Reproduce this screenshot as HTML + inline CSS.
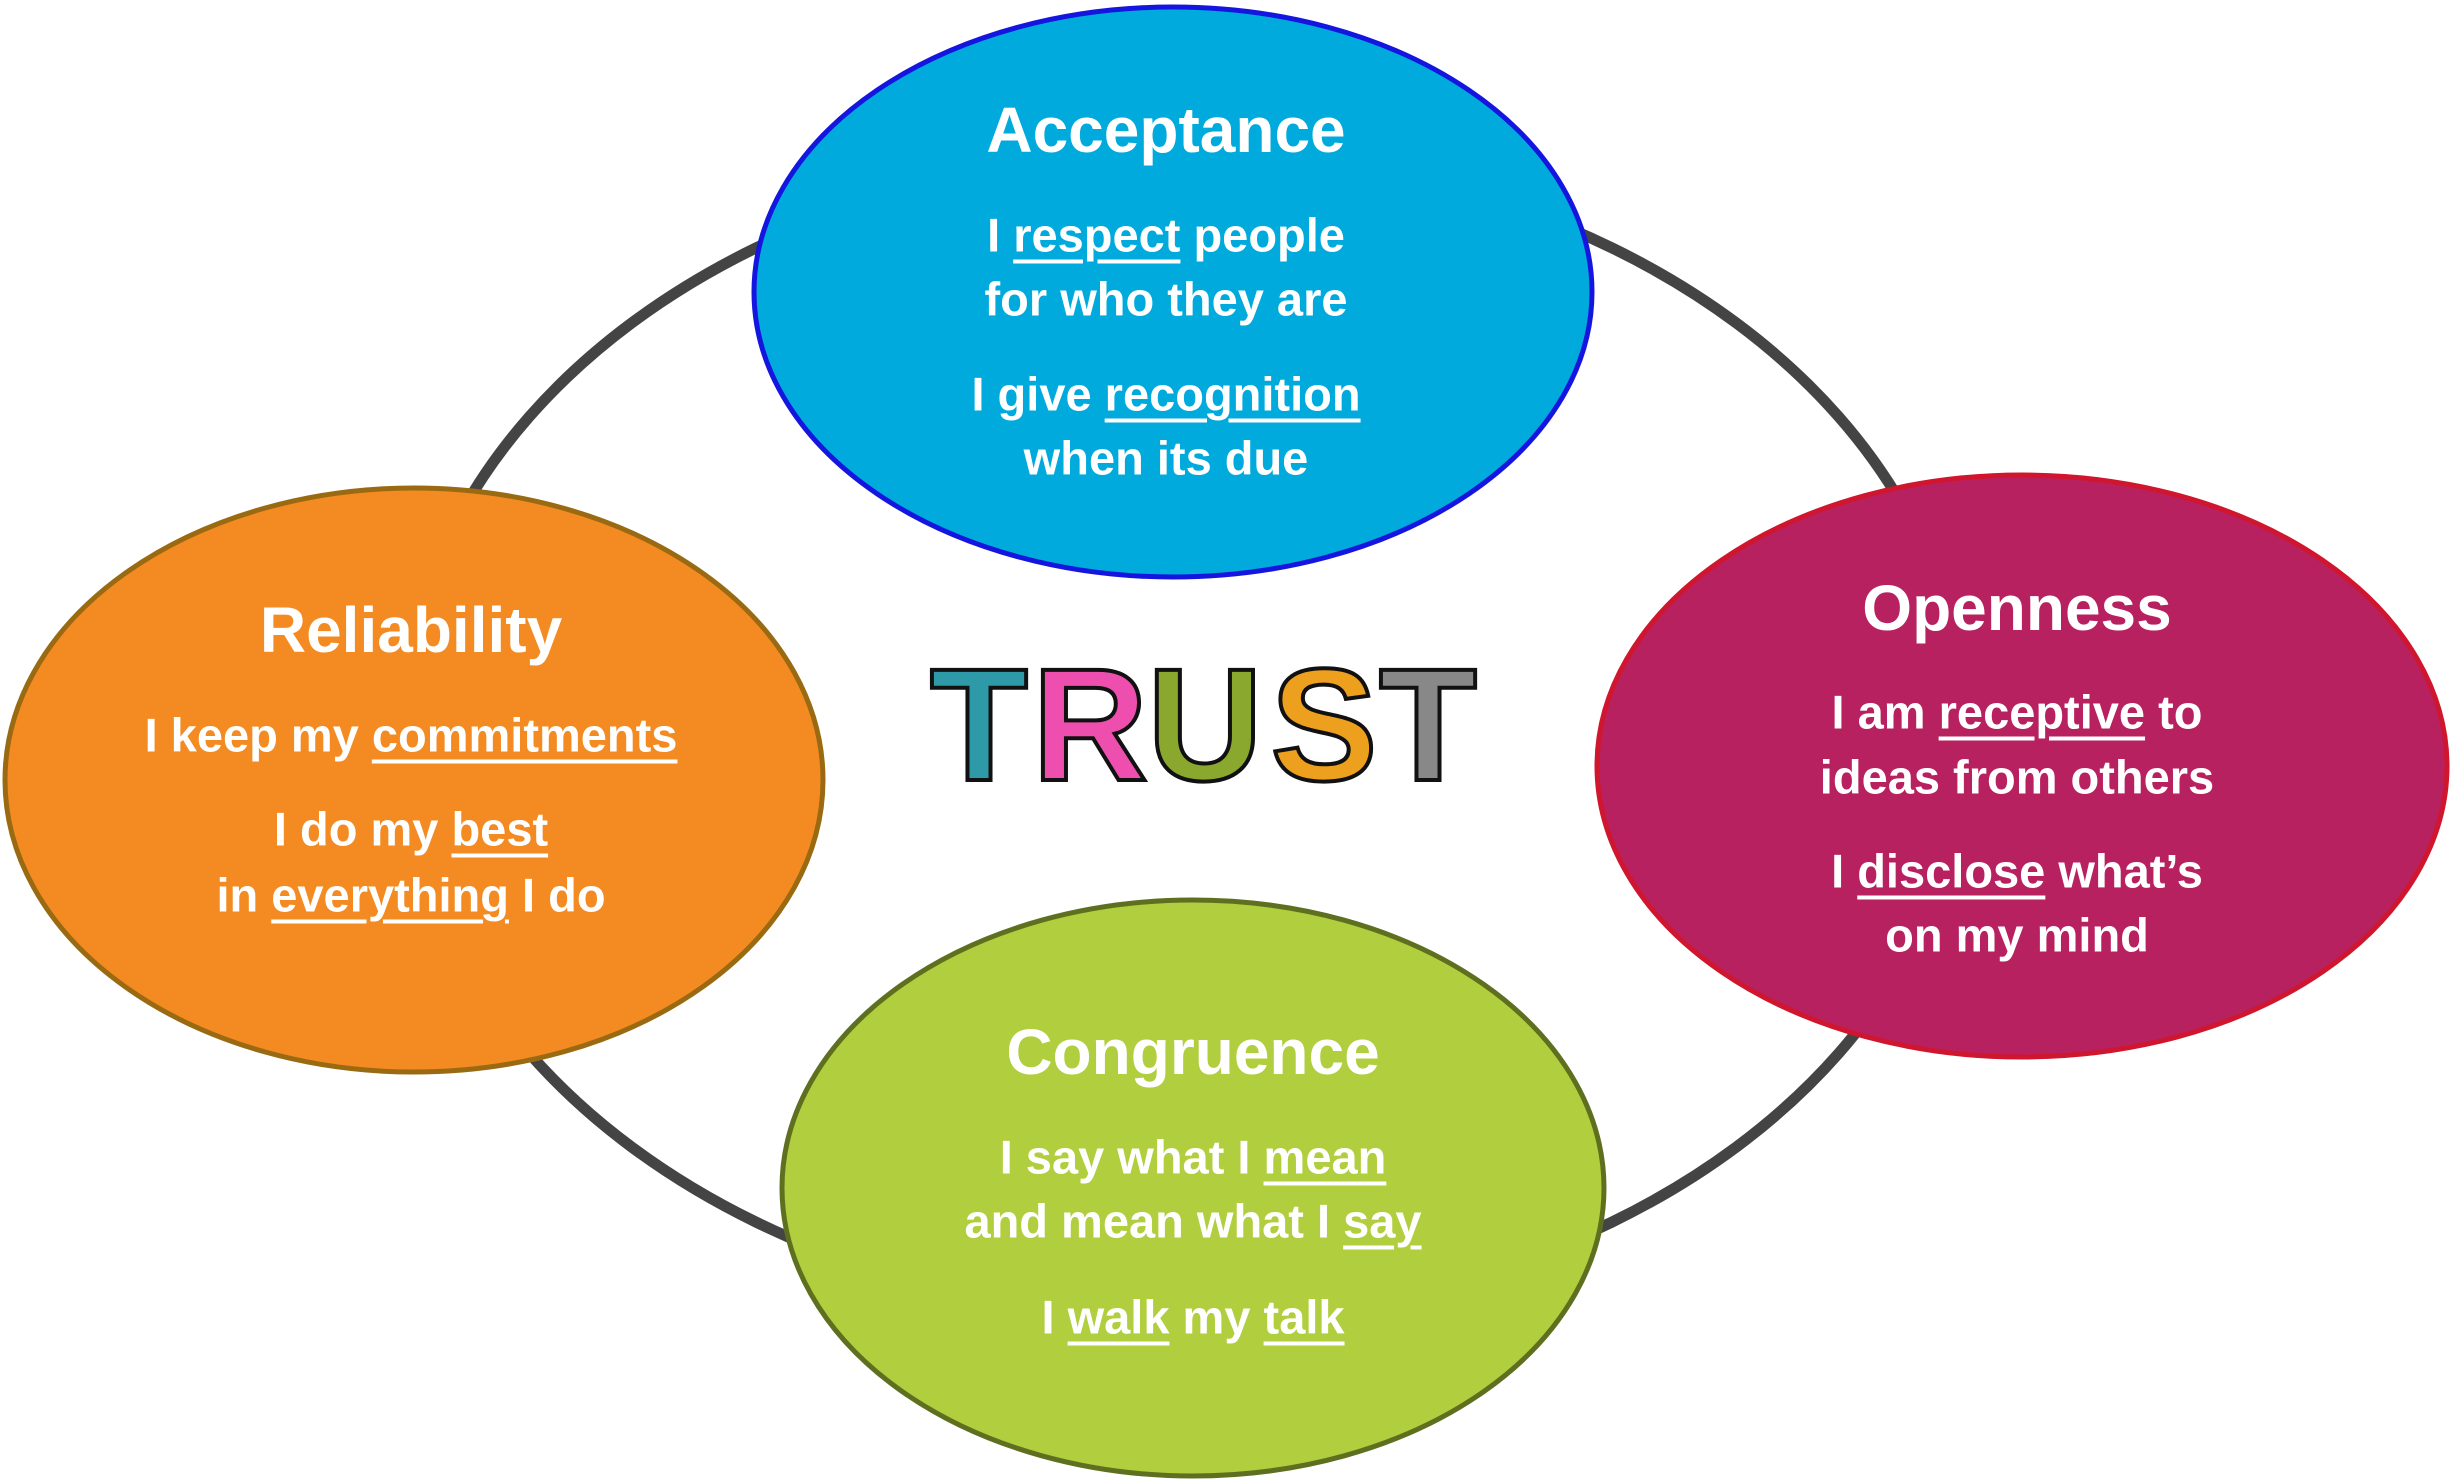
<!DOCTYPE html>
<html><head><meta charset="utf-8"><style>
html,body{margin:0;padding:0;background:#fff;}
#c{position:relative;width:2452px;height:1480px;overflow:hidden;font-family:"Liberation Sans",sans-serif;font-weight:bold;color:#fff;}
svg{position:absolute;left:0;top:0;}
.t{position:absolute;transform:translate(-50%,-50%);white-space:nowrap;text-align:center;}
.h{font-size:64px;}
.l{font-size:47px;}
u{text-decoration-thickness:4px;text-underline-offset:8px;}
</style></head><body><div id="c">
<svg width="2452" height="1480">
<ellipse cx="1184" cy="735" rx="782" ry="582" fill="none" stroke="#444" stroke-width="11"/>
<ellipse cx="1173" cy="292" rx="419" ry="285" fill="#00AADC" stroke="#1515E0" stroke-width="5"/>
<ellipse cx="414" cy="780" rx="409" ry="292" fill="#F38B22" stroke="#9A6A12" stroke-width="5"/>
<ellipse cx="2022" cy="766" rx="425" ry="291" fill="#B82160" stroke="#D0152E" stroke-width="5"/>
<ellipse cx="1193" cy="1188" rx="411" ry="288" fill="#B0CE3E" stroke="#5E7020" stroke-width="5"/>
<g font-family="Liberation Sans, sans-serif" font-weight="bold" font-size="160" stroke="#111" stroke-width="4" text-anchor="middle">
<text x="979" y="780" fill="#2E9AA8">T</text>
<text x="1090" y="780" fill="#EE4FAF">R</text>
<text x="1205" y="780" fill="#8BA82E">U</text>
<text x="1324" y="780" fill="#EDA01E">S</text>
<text x="1428" y="780" fill="#888">T</text>
</g>
</svg>
<div class="t h" style="left:1166px;top:130px">Acceptance</div>
<div class="t l" style="left:1166px;top:235px">I <u>respect</u> people</div>
<div class="t l" style="left:1166px;top:299px">for who they are</div>
<div class="t l" style="left:1166px;top:394px">I give <u>recognition</u></div>
<div class="t l" style="left:1166px;top:458px">when its due</div>

<div class="t h" style="left:411px;top:630px">Reliability</div>
<div class="t l" style="left:411px;top:735px">I keep my <u>commitments</u></div>
<div class="t l" style="left:411px;top:829px">I do my <u>best</u></div>
<div class="t l" style="left:411px;top:895px">in <u>everything</u> I do</div>

<div class="t h" style="left:2017px;top:608px">Openness</div>
<div class="t l" style="left:2017px;top:712px">I am <u>receptive</u> to</div>
<div class="t l" style="left:2017px;top:777px">ideas from others</div>
<div class="t l" style="left:2017px;top:871px">I <u>disclose</u> what’s</div>
<div class="t l" style="left:2017px;top:935px">on my mind</div>

<div class="t h" style="left:1193px;top:1052px">Congruence</div>
<div class="t l" style="left:1193px;top:1157px">I say what I <u>mean</u></div>
<div class="t l" style="left:1193px;top:1221px">and mean what I <u>say</u></div>
<div class="t l" style="left:1193px;top:1317px">I <u>walk</u> my <u>talk</u></div>
</div></body></html>
